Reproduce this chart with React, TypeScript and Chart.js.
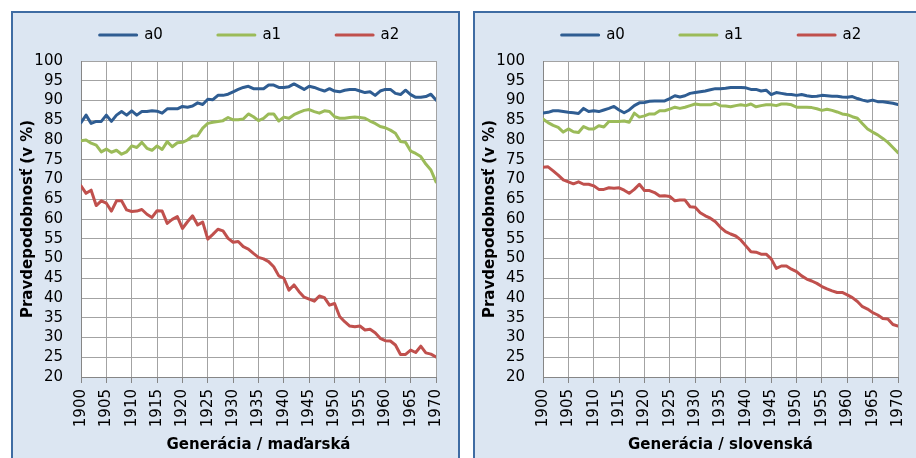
import React, { useEffect, useRef } from "react";
import { Chart, registerables } from "chart.js";

Chart.register(...registerables);

const years = [
  1900, 1901, 1902, 1903, 1904, 1905, 1906, 1907, 1908, 1909,
  1910, 1911, 1912, 1913, 1914, 1915, 1916, 1917, 1918, 1919,
  1920, 1921, 1922, 1923, 1924, 1925, 1926, 1927, 1928, 1929,
  1930, 1931, 1932, 1933, 1934, 1935, 1936, 1937, 1938, 1939,
  1940, 1941, 1942, 1943, 1944, 1945, 1946, 1947, 1948, 1949,
  1950, 1951, 1952, 1953, 1954, 1955, 1956, 1957, 1958, 1959,
  1960, 1961, 1962, 1963, 1964, 1965, 1966, 1967, 1968, 1969,
  1970,
];

const seriesLabels = ["a0", "a1", "a2"];
const seriesColors = ["#2f5d92", "#9bbb59", "#c0504d"];

// maďarská
const huA0 = [
  84.4, 86.3, 84.2, 84.7, 84.7, 86.3, 84.7, 86.3, 87.2, 86.3,
  87.4, 86.3, 87.2, 87.2, 87.4, 87.3, 86.8, 87.9, 87.9, 87.9,
  88.5, 88.3, 88.6, 89.4, 89.0, 90.3, 90.2, 91.3, 91.3, 91.6,
  92.2, 92.8, 93.3, 93.6, 93.0, 93.0, 93.0, 93.9, 93.9, 93.3,
  93.3, 93.5, 94.2, 93.5, 92.8, 93.6, 93.3, 92.8, 92.4, 93.0,
  92.4, 92.2, 92.6, 92.8, 92.8, 92.4, 92.0, 92.2, 91.3, 92.4,
  92.8, 92.8, 91.8, 91.5, 92.6, 91.5, 90.8, 90.8, 91.0, 91.6,
  90.1,
];
const huA1 = [
  79.8, 80.0, 79.2, 78.7, 77.0, 77.7, 76.9, 77.4, 76.4, 77.0,
  78.5, 78.1, 79.4, 77.9, 77.4, 78.5, 77.6, 79.6, 78.3, 79.3,
  79.4, 80.0, 81.0, 81.1, 83.0, 84.2, 84.5, 84.7, 84.9, 85.7,
  85.1, 85.1, 85.3, 86.6, 85.9, 84.9, 85.5, 86.6, 86.6, 84.8,
  85.8, 85.5, 86.4, 87.0, 87.5, 87.7, 87.2, 86.8, 87.4, 87.2,
  85.9, 85.5, 85.5, 85.7, 85.8, 85.7, 85.5, 84.8, 84.2, 83.4,
  83.1, 82.5, 81.7, 79.6, 79.4, 77.2, 76.6, 75.8, 73.9, 72.4,
  69.4,
];
const huA2 = [
  68.4, 66.5, 67.3, 63.4, 64.6, 64.0, 62.0, 64.6, 64.6, 62.3,
  61.9, 62.0, 62.4, 61.2, 60.4, 62.1, 62.0, 58.9, 59.9, 60.6,
  57.6, 59.3, 60.8, 58.5, 59.2, 54.9, 56.1, 57.4, 57.0, 55.1,
  54.1, 54.3, 53.0, 52.4, 51.3, 50.3, 49.9, 49.2, 47.9, 45.6,
  45.0, 42.0, 43.3, 41.6, 40.2, 39.7, 39.2, 40.5, 40.1, 38.2,
  38.6, 35.3, 34.0, 32.9, 32.7, 32.9, 31.9, 32.1, 31.2, 29.8,
  29.2, 29.1, 28.1, 25.7, 25.7, 26.8, 26.2, 27.8, 26.1, 25.8,
  25.1,
];

// slovenská
const skA0 = [
  86.8, 87.0, 87.4, 87.4, 87.2, 87.0, 86.9, 86.7, 88.0, 87.2,
  87.4, 87.2, 87.6, 88.0, 88.5, 87.6, 86.9, 87.6, 88.7, 89.4,
  89.5, 89.8, 89.9, 89.9, 89.9, 90.5, 91.2, 90.9, 91.2, 91.8,
  92.0, 92.2, 92.4, 92.7, 93.0, 93.0, 93.1, 93.3, 93.3, 93.3,
  93.2, 92.8, 92.8, 92.4, 92.6, 91.5, 92.0, 91.8, 91.6, 91.5,
  91.3, 91.5, 91.2, 91.0, 91.1, 91.3, 91.2, 91.1, 91.1, 90.9,
  90.8, 91.0, 90.5, 90.1, 89.8, 90.1, 89.7, 89.7, 89.5, 89.3,
  89.0,
];
const skA1 = [
  85.3, 84.4, 83.7, 83.2, 82.0, 82.8, 82.1, 81.9, 83.4, 82.8,
  82.8, 83.6, 83.3, 84.7, 84.7, 84.7, 84.8, 84.5, 86.8, 85.8,
  86.1, 86.6, 86.6, 87.4, 87.4, 87.8, 88.3, 88.0, 88.3, 88.7,
  89.1, 88.9, 88.9, 88.9, 89.3, 88.7, 88.6, 88.4, 88.7, 88.9,
  88.7, 89.1, 88.4, 88.7, 88.9, 88.9, 88.7, 89.1, 89.1, 88.9,
  88.3, 88.3, 88.3, 88.2, 87.9, 87.5, 87.8, 87.5, 87.1, 86.6,
  86.4, 85.9, 85.5, 84.1, 82.8, 82.0, 81.3, 80.4, 79.4, 78.1,
  76.8,
];
const skA2 = [
  73.1, 73.2, 72.2, 71.1, 69.9, 69.4, 68.9, 69.4, 68.8, 68.8,
  68.4, 67.5, 67.5, 67.9, 67.8, 67.9, 67.3, 66.5, 67.5, 68.8,
  67.2, 67.2, 66.7, 65.8, 65.9, 65.7, 64.6, 64.8, 64.8, 63.1,
  63.0, 61.6, 60.8, 60.2, 59.3, 57.9, 56.8, 56.2, 55.7, 54.7,
  53.2, 51.7, 51.6, 51.1, 51.1, 49.9, 47.5, 48.1, 48.1, 47.3,
  46.7, 45.6, 44.8, 44.3, 43.7, 42.9, 42.3, 41.8, 41.4, 41.4,
  40.8, 40.1, 39.1, 37.8, 37.2, 36.3, 35.7, 34.8, 34.7, 33.3,
  32.9,
];

const yTitle = "Pravdepodobnosť (v %)";
const xTitleHu = "Generácia / maďarská";
const xTitleSk = "Generácia / slovenská";

const FONT = "'DejaVu Sans', sans-serif";
const PANEL_W = 449;
const PANEL_H = 460;

function ChartPanel(props: { left: number; series: number[][]; xTitle: string }) {
  const ref = useRef<HTMLCanvasElement | null>(null);

  useEffect(() => {
    if (!ref.current) return;

    const plotBg = {
      id: "plotBg",
      beforeDraw(chart: any) {
        const { ctx, chartArea } = chart;
        ctx.save();
        ctx.fillStyle = "#ffffff";
        ctx.fillRect(chartArea.left, chartArea.top, chartArea.right - chartArea.left, chartArea.bottom - chartArea.top);
        ctx.restore();
      },
    };

    // move the legend row to where the reference places it
    const legendShift = {
      id: "legendShift",
      afterLayout(chart: any) {
        const lg = chart.legend;
        if (lg) {
          lg.left += 20;
          lg.right += 20;
          lg.top -= 38.5;
        }
      },
    };

    const chart = new Chart(ref.current, {
      type: "line",
      data: {
        datasets: props.series.map((vals, i) => ({
          label: seriesLabels[i],
          data: years.map((yr, j) => ({ x: yr, y: vals[j] })),
          borderColor: seriesColors[i],
          backgroundColor: seriesColors[i],
          borderWidth: 3,
          pointRadius: 0,
          pointHoverRadius: 0,
          tension: 0,
          borderJoinStyle: "round",
          borderCapStyle: "round",
        })),
      },
      options: {
        responsive: false,
        animation: false,
        events: [],
        layout: { padding: { left: 0, right: 12, top: 0, bottom: 0 } },
        plugins: {
          tooltip: { enabled: false },
          legend: {
            display: true,
            position: "top",
            maxHeight: 50,
            labels: {
              boxWidth: 37,
              boxHeight: 0,
              padding: 55,
              color: "#000000",
              font: { family: FONT, size: 15 },
            },
          },
        },
        scales: {
          x: {
            type: "linear",
            min: 1900,
            max: 1970,
            ticks: {
              stepSize: 5,
              autoSkip: false,
              minRotation: 90,
              maxRotation: 90,
              padding: 6,
              color: "#000000",
              font: { family: FONT, size: 15 },
              callback: (v: any) => String(v),
            },
            grid: { color: "#a3a3a3", lineWidth: 1, drawTicks: true, tickLength: 6, tickColor: "#868686" },
            border: { color: "#868686", width: 1 },
            title: {
              display: true,
              text: props.xTitle,
              color: "#000000",
              font: { family: FONT, size: 15, weight: "bold" },
              padding: { top: 0, bottom: 17 },
            },
            afterFit: (s: any) => {
              s.height = 94;
            },
          },
          y: {
            type: "linear",
            min: 20,
            max: 100,
            ticks: {
              stepSize: 5,
              autoSkip: false,
              padding: 18,
              color: "#000000",
              font: { family: FONT, size: 15 },
            },
            grid: { color: "#a3a3a3", lineWidth: 1, drawTicks: false },
            border: { color: "#868686", width: 1 },
            title: {
              display: true,
              text: yTitle,
              color: "#000000",
              font: { family: FONT, size: 15, weight: "bold" },
              padding: { top: 8, bottom: 0 },
            },
            afterFit: (s: any) => {
              s.width = 70;
            },
          },
        },
      } as any,
      plugins: [plotBg, legendShift],
    });

    return () => chart.destroy();
  }, []);

  return (
    <div
      style={{
        position: "absolute",
        left: props.left,
        top: 11,
        width: PANEL_W,
        height: PANEL_H,
        background: "#dce6f2",
      }}
    >
      <canvas ref={ref} width={PANEL_W} height={PANEL_H} style={{ position: "absolute", left: 0, top: 0 }} />
      <div
        style={{
          position: "absolute",
          left: 0,
          top: 0,
          width: PANEL_W,
          height: PANEL_H,
          boxSizing: "border-box",
          border: "2px solid #3f6ca3",
          pointerEvents: "none",
        }}
      />
    </div>
  );
}

export default function App() {
  return (
    <div
      style={{
        position: "absolute",
        left: 0,
        top: 0,
        width: 916,
        height: 458,
        overflow: "hidden",
        background: "#ffffff",
      }}
    >
      <ChartPanel left={11} series={[huA0, huA1, huA2]} xTitle={xTitleHu} />
      <ChartPanel left={473} series={[skA0, skA1, skA2]} xTitle={xTitleSk} />
    </div>
  );
}
